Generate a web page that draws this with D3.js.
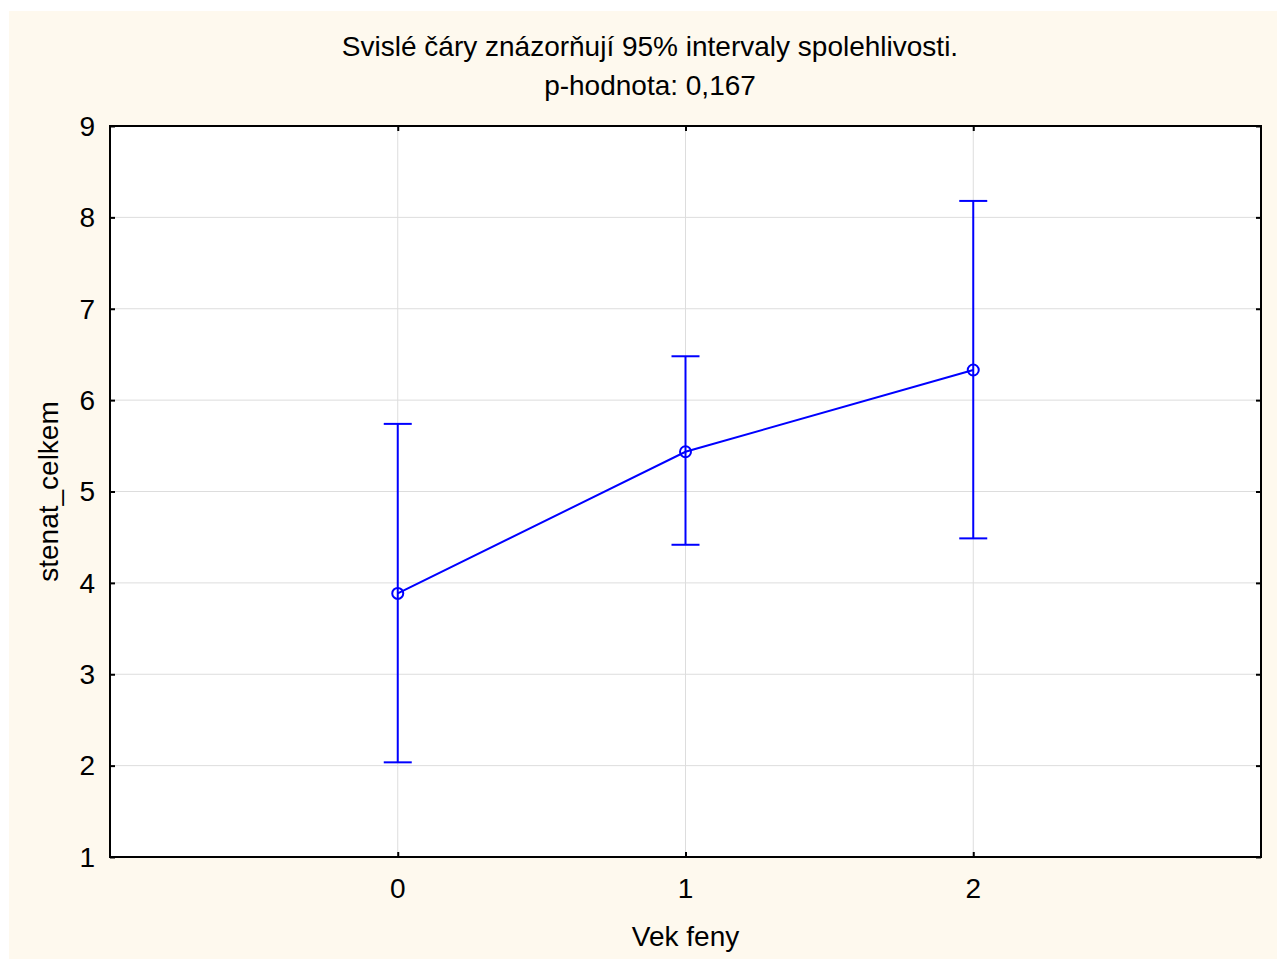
<!DOCTYPE html>
<html>
<head>
<meta charset="utf-8">
<script src="https://cdn.jsdelivr.net/npm/d3@7"></script>
<style>
  body { margin: 0; background: #fff; }
  svg { display: block; }
  text { font-family: "Liberation Sans", Arial, sans-serif; fill: #000; }
</style>
</head>
<body>
<svg id="chart"></svg>
<script>
/* Means with 95% confidence intervals */
const groups = [0, 1, 2]
const means = [3.885, 5.435, 6.33]
const lower = [2.036, 4.417, 4.487]
const upper = [5.74, 6.48, 8.18]
const yTicks = [1, 2, 3, 4, 5, 6, 7, 8, 9]
const titleLines = ['Svislé čáry znázorňují 95% intervaly spolehlivosti.', 'p-hodnota: 0,167']

const W = 1281, H = 962
const margin = { top: 126, right: 20, bottom: 105, left: 110 }
const width = 1261 - margin.left
const height = 857 - margin.top
const blue = '#0000ff'
const fontSize = '28px'

const svg = d3.select('#chart')
    .attr('width', W)
    .attr('height', H)

svg.append('rect')
    .attr('x', 9).attr('y', 11)
    .attr('width', W - 13).attr('height', H - 14)
    .attr('fill', '#fef9ee')

const g = svg.append('g')
    .attr('transform', `translate(${margin.left},${margin.top})`)

const x = d3.scaleLinear().domain([-1, 3]).range([0, width])
const y = d3.scaleLinear().domain([1, 9]).range([height, 0])

g.append('rect')
    .attr('width', width).attr('height', height)
    .attr('fill', '#fff')

// grid
g.selectAll('.hgrid')
    .data(yTicks)
    .enter().append('line')
    .attr('x1', 0).attr('x2', width)
    .attr('y1', d => y(d)).attr('y2', d => y(d))
    .attr('stroke', '#dddddd').attr('stroke-width', 1)

g.selectAll('.vgrid')
    .data(groups)
    .enter().append('line')
    .attr('x1', d => x(d)).attr('x2', d => x(d))
    .attr('y1', 0).attr('y2', height)
    .attr('stroke', '#dddddd').attr('stroke-width', 1)

// axes: ticks pointing inward
const axisL = d3.axisRight(y).tickValues(yTicks).tickSize(5).tickFormat('')
const axisR = d3.axisLeft(y).tickValues(yTicks).tickSize(5).tickFormat('')
const axisB = d3.axisTop(x).tickValues(groups).tickSize(5).tickFormat('')
const axisT = d3.axisBottom(x).tickValues(groups).tickSize(5).tickFormat('')

const styleAxis = sel => {
    sel.select('.domain').remove()
    sel.selectAll('line').attr('stroke', '#000').attr('stroke-width', 2)
}
g.append('g').call(axisL).call(styleAxis)
g.append('g').attr('transform', `translate(${width},0)`).call(axisR).call(styleAxis)
g.append('g').attr('transform', `translate(0,${height})`).call(axisB).call(styleAxis)
g.append('g').call(axisT).call(styleAxis)

g.append('rect')
    .attr('width', width).attr('height', height)
    .attr('fill', 'none').attr('stroke', '#000').attr('stroke-width', 2)

// tick labels
g.selectAll('.ylab')
    .data(yTicks)
    .enter().append('text')
    .attr('x', -15).attr('y', d => y(d))
    .attr('dy', '0.35em')
    .attr('text-anchor', 'end')
    .style('font-size', fontSize)
    .text(d => d)

g.selectAll('.xlab')
    .data(groups)
    .enter().append('text')
    .attr('x', d => x(d)).attr('y', height + 41)
    .attr('text-anchor', 'middle')
    .style('font-size', fontSize)
    .text(d => d)

// error bars
const cap = 14
groups.forEach((d, i) => {
    const cx = x(d)
    g.append('line')
        .attr('x1', cx).attr('x2', cx)
        .attr('y1', y(lower[i])).attr('y2', y(upper[i]))
        .attr('stroke', blue).attr('stroke-width', 2)
    ;[lower[i], upper[i]].forEach(v => {
        g.append('line')
            .attr('x1', cx - cap).attr('x2', cx + cap)
            .attr('y1', y(v)).attr('y2', y(v))
            .attr('stroke', blue).attr('stroke-width', 2)
    })
})

const line = d3.line()
    .x((d, i) => x(groups[i]))
    .y(d => y(d))

g.append('path')
    .datum(means)
    .attr('d', line)
    .attr('fill', 'none')
    .attr('stroke', blue).attr('stroke-width', 2)

g.selectAll('.pt')
    .data(means)
    .enter().append('circle')
    .attr('cx', (d, i) => x(groups[i]))
    .attr('cy', d => y(d))
    .attr('r', 5.5)
    .attr('fill', 'none')
    .attr('stroke', blue).attr('stroke-width', 2)

// titles
svg.selectAll('.title')
    .data(titleLines)
    .enter().append('text')
    .attr('x', 650).attr('y', (d, i) => 56 + i * 39)
    .attr('text-anchor', 'middle')
    .style('font-size', fontSize)
    .text(d => d)

svg.append('text')
    .attr('x', margin.left + x(1)).attr('y', 946)
    .attr('text-anchor', 'middle')
    .style('font-size', fontSize)
    .text('Vek feny')

svg.append('text')
    .attr('transform', `translate(58,${margin.top + height / 2}) rotate(-90)`)
    .attr('text-anchor', 'middle')
    .style('font-size', fontSize)
    .text('stenat_celkem')
</script>
</body>
</html>
